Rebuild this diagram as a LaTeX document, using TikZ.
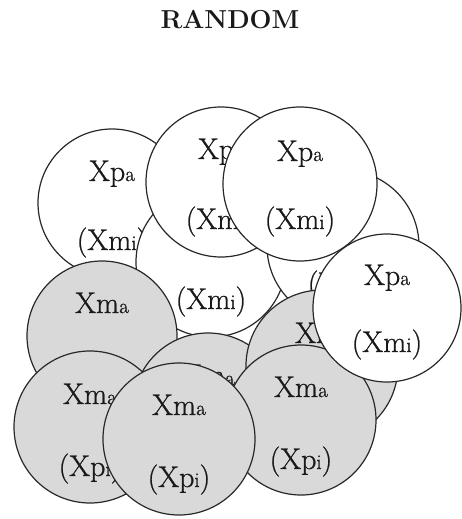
\documentclass[tikz,border=0pt]{standalone}
\usepackage{fontspec}
\newfontfamily\lblfont{Latin Modern Roman}[FakeBold=0.8]
\definecolor{ballgray}{RGB}{217,217,217}
\definecolor{edgecol}{RGB}{40,40,40}
\definecolor{txtcol}{RGB}{25,25,25}
\newcommand{\sm}[1]{{\fontsize{21}{21}\selectfont #1}}
\tikzset{
  ball/.style={circle, draw=edgecol, line width=1.2pt, inner sep=0pt, minimum size=#1},
  wball/.style={ball=#1, fill=white},
  gball/.style={ball=#1, fill=ballgray},
  lbl/.style={anchor=base, inner sep=0pt, text=txtcol, font=\lblfont\fontsize{30}{30}\selectfont},
  ttl/.style={anchor=base, inner sep=0pt, text=txtcol, font=\fontsize{26}{26}\selectfont\bfseries}
}
\begin{document}
\begin{tikzpicture}[x=1pt,y=-1pt]
\fill[white] (0,0) rectangle (462,519);
\useasboundingbox (0,0) rectangle (462,519);
\node[ttl] (title) at (230,29) {RANDOM};
% white circles (back)
\node[wball=148pt] (c1) at (112,203) {};
\node[lbl] (c1a) at (112,181) {Xp\sm{a}};
\node[lbl] (c1b) at (112,250) {(Xm\sm{i})};
\node[wball=150pt] (c2) at (211,262) {};
\node[lbl] (c2a) at (211,239) {Xp\sm{a}};
\node[lbl] (c2b) at (211,309) {(Xm\sm{i})};
\node[wball=152pt] (c3) at (343,246) {};
\node[lbl] (c3a) at (343,223) {Xp\sm{a}};
\node[lbl] (c3b) at (343,293) {(Xm\sm{i})};
\node[wball=150pt] (c4) at (221,182) {};
\node[lbl] (c4a) at (221,159) {Xp\sm{a}};
\node[lbl] (c4b) at (221,229) {(Xm\sm{i})};
\node[wball=154pt] (c5) at (300,184) {};
\node[lbl] (c5a) at (300,161) {Xp\sm{a}};
\node[lbl] (c5b) at (300,229) {(Xm\sm{i})};
% gray circles
\node[gball=150pt] (c7) at (102,336) {};
\node[lbl] (c7a) at (102,313) {Xm\sm{a}};
\node[lbl] (c7b) at (102,383) {(Xp\sm{i})};
\node[gball=150pt] (c9) at (208,408) {};
\node[lbl] (c9a) at (208,385) {Xm\sm{a}};
\node[lbl] (c9b) at (208,455) {(Xp\sm{i})};
\node[gball=152pt] (c8) at (322,366) {};
\node[lbl] (c8a) at (322,343) {Xm\sm{a}};
\node[lbl] (c8b) at (322,413) {(Xp\sm{i})};
\node[gball=152pt] (c10) at (90,427) {};
\node[lbl] (c10a) at (90,404) {Xm\sm{a}};
\node[lbl] (c10b) at (90,476) {(Xp\sm{i})};
\node[gball=150pt] (c11) at (301,420) {};
\node[lbl] (c11a) at (301,397) {Xm\sm{a}};
\node[lbl] (c11b) at (301,469) {(Xp\sm{i})};
\node[wball=148pt] (c6) at (387,308) {};
\node[lbl] (c6a) at (387,285) {Xp\sm{a}};
\node[lbl] (c6b) at (387,352) {(Xm\sm{i})};
\node[gball=152pt] (c12) at (179,439) {};
\node[lbl] (c12a) at (179,415) {Xm\sm{a}};
\node[lbl] (c12b) at (179,487) {(Xp\sm{i})};
\end{tikzpicture}
\end{document}
